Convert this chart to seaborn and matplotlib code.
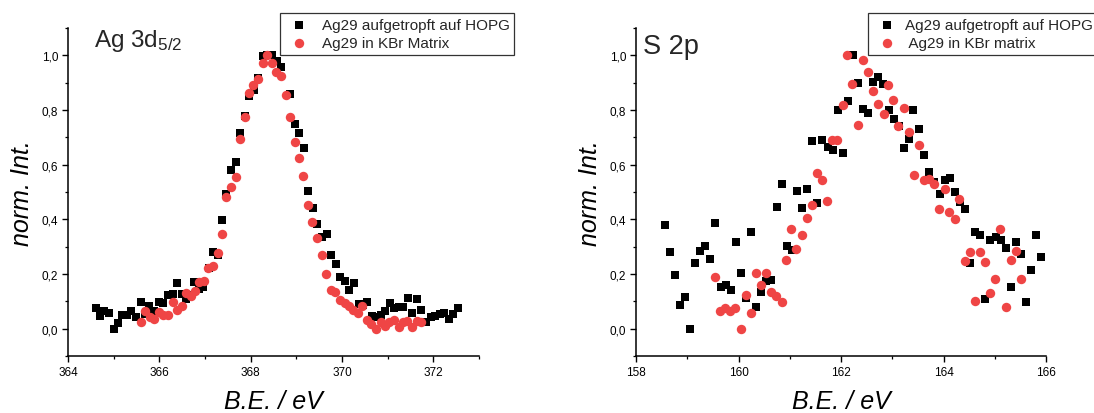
import matplotlib
matplotlib.use("Agg")
import matplotlib.pyplot as plt
from matplotlib.ticker import MultipleLocator, FuncFormatter
import numpy as np
import pandas as pd
import seaborn as sns

# ---------------- data ----------------
ag_hopg_x = [364.61, 364.70, 364.79, 364.90, 365.00, 365.09, 365.19, 365.29, 365.39, 365.49,
             365.59, 365.69, 365.78, 365.88, 365.99, 366.09, 366.18, 366.29, 366.38, 366.49,
             366.58, 366.68, 366.77, 366.86, 366.95, 367.09, 367.17, 367.28, 367.37, 367.47,
             367.57, 367.68, 367.77, 367.88, 367.97, 368.08, 368.16, 368.26, 368.36, 368.47,
             368.58, 368.66, 368.86, 368.97, 369.06, 369.17, 369.26, 369.36, 369.46, 369.57,
             369.67, 369.75, 369.87, 369.96, 370.07, 370.15, 370.26, 370.37, 370.46, 370.55,
             370.66, 370.77, 370.85, 370.94, 371.05, 371.14, 371.24, 371.33, 371.44, 371.53,
             371.64, 371.74, 371.85, 371.94, 372.03, 372.15, 372.23, 372.34, 372.44, 372.53]
ag_hopg_y = [0.074, 0.048, 0.066, 0.056, 0.000, 0.020, 0.051, 0.051, 0.064, 0.042,
             0.097, 0.055, 0.082, 0.064, 0.097, 0.094, 0.122, 0.126, 0.167, 0.126,
             0.109, 0.125, 0.171, 0.145, 0.152, 0.222, 0.281, 0.268, 0.398, 0.493,
             0.582, 0.608, 0.715, 0.777, 0.850, 0.875, 0.918, 0.999, 1.000, 1.000,
             0.980, 0.957, 0.857, 0.747, 0.715, 0.660, 0.504, 0.441, 0.382, 0.336,
             0.347, 0.268, 0.235, 0.189, 0.173, 0.142, 0.167, 0.090, 0.085, 0.099,
             0.045, 0.044, 0.050, 0.066, 0.093, 0.074, 0.080, 0.081, 0.112, 0.056,
             0.107, 0.070, 0.025, 0.042, 0.048, 0.055, 0.056, 0.035, 0.055, 0.074]

ag_kbr_x = [365.59, 365.69, 365.80, 365.89, 365.99, 366.09, 366.18, 366.29, 366.38, 366.49,
            366.58, 366.69, 366.78, 366.87, 366.98, 367.07, 367.18, 367.28, 367.37, 367.47,
            367.57, 367.67, 367.77, 367.88, 367.97, 368.06, 368.17, 368.26, 368.36, 368.47,
            368.55, 368.66, 368.77, 368.86, 368.96, 369.06, 369.15, 369.26, 369.35, 369.46,
            369.56, 369.65, 369.75, 369.85, 369.96, 370.07, 370.15, 370.25, 370.34, 370.44,
            370.55, 370.63, 370.74, 370.85, 370.94, 371.04, 371.14, 371.24, 371.33, 371.43,
            371.53, 371.64, 371.74]
ag_kbr_y = [0.025, 0.064, 0.042, 0.036, 0.060, 0.049, 0.051, 0.097, 0.069, 0.082,
            0.131, 0.119, 0.137, 0.171, 0.175, 0.222, 0.229, 0.278, 0.348, 0.481,
            0.517, 0.556, 0.695, 0.773, 0.864, 0.891, 0.912, 0.972, 1.000, 0.972,
            0.938, 0.925, 0.855, 0.774, 0.682, 0.623, 0.560, 0.452, 0.392, 0.331,
            0.268, 0.201, 0.141, 0.134, 0.104, 0.094, 0.082, 0.070, 0.057, 0.082,
            0.031, 0.017, 0.000, 0.025, 0.009, 0.025, 0.031, 0.005, 0.023, 0.027,
            0.006, 0.029, 0.026]

s_hopg_x = [158.57, 158.66, 158.76, 158.86, 158.96, 159.05, 159.15, 159.25, 159.35, 159.44,
            159.54, 159.66, 159.76, 159.85, 159.95, 160.05, 160.15, 160.24, 160.34, 160.44,
            160.54, 160.63, 160.75, 160.85, 160.94, 161.04, 161.14, 161.24, 161.34, 161.43,
            161.53, 161.63, 161.74, 161.84, 161.94, 162.03, 162.14, 162.24, 162.34, 162.42,
            162.52, 162.63, 162.72, 162.82, 162.94, 163.03, 163.13, 163.22, 163.32, 163.41,
            163.52, 163.62, 163.72, 163.81, 163.93, 164.03, 164.13, 164.22, 164.32, 164.42,
            164.52, 164.61, 164.71, 164.81, 164.91, 165.02, 165.12, 165.22, 165.32, 165.41,
            165.51, 165.61, 165.71, 165.80, 165.90]
s_hopg_y = [0.379, 0.281, 0.196, 0.085, 0.115, 0.000, 0.239, 0.283, 0.303, 0.254,
            0.386, 0.152, 0.158, 0.140, 0.317, 0.202, 0.113, 0.354, 0.078, 0.135,
            0.174, 0.178, 0.446, 0.531, 0.303, 0.288, 0.505, 0.441, 0.511, 0.685,
            0.460, 0.692, 0.665, 0.654, 0.801, 0.641, 0.832, 1.000, 0.900, 0.803,
            0.790, 0.903, 0.919, 0.895, 0.799, 0.766, 0.740, 0.660, 0.695, 0.799,
            0.732, 0.634, 0.572, 0.538, 0.493, 0.545, 0.551, 0.499, 0.465, 0.437,
            0.239, 0.354, 0.342, 0.110, 0.324, 0.336, 0.325, 0.295, 0.152, 0.317,
            0.272, 0.097, 0.214, 0.342, 0.262]

s_kbr_x = [159.55, 159.64, 159.74, 159.84, 159.94, 160.04, 160.14, 160.24, 160.34, 160.44,
           160.54, 160.63, 160.74, 160.84, 160.93, 161.03, 161.13, 161.23, 161.33, 161.43,
           161.53, 161.63, 161.73, 161.83, 161.93, 162.03, 162.12, 162.22, 162.33, 162.42,
           162.52, 162.62, 162.73, 162.83, 162.92, 163.02, 163.12, 163.22, 163.33, 163.42,
           163.52, 163.62, 163.72, 163.81, 163.91, 164.02, 164.11, 164.22, 164.31, 164.41,
           164.52, 164.61, 164.71, 164.81, 164.91, 165.01, 165.11, 165.21, 165.31, 165.41,
           165.51]
s_kbr_y = [0.190, 0.066, 0.076, 0.066, 0.074, 0.000, 0.122, 0.056, 0.202, 0.160,
           0.202, 0.134, 0.121, 0.096, 0.251, 0.363, 0.292, 0.341, 0.404, 0.451,
           0.571, 0.543, 0.467, 0.689, 0.689, 0.820, 1.000, 0.895, 0.746, 0.982,
           0.940, 0.869, 0.821, 0.784, 0.893, 0.835, 0.740, 0.808, 0.721, 0.562,
           0.672, 0.544, 0.548, 0.528, 0.437, 0.511, 0.426, 0.400, 0.474, 0.249,
           0.281, 0.100, 0.281, 0.245, 0.129, 0.183, 0.364, 0.078, 0.250, 0.283,
           0.183]

left_labels = ["Ag29 aufgetropft auf HOPG", "Ag29 in KBr Matrix"]
right_labels = ["Ag29 aufgetropft auf HOPG", " Ag29 in KBr matrix"]
left_title = "Ag 3d$_{5/2}$"
right_title = "S 2p"
xlabel = "B.E. / eV"
ylabel = "norm. Int."

# ---------------- style ----------------
sns.set_theme(style="ticks")
plt.rcParams["font.family"] = ["Liberation Sans", "DejaVu Sans"]
plt.rcParams["mathtext.default"] = "regular"

W, H = 1094, 414
fig = plt.figure(figsize=(W / 100, H / 100), dpi=100)
fig.patch.set_facecolor("white")


def px_axes(l, r, t, b):
    return fig.add_axes([l / W, 1 - b / H, (r - l) / W, (b - t) / H])


ax1 = px_axes(68, 479, 29, 357)
ax2 = px_axes(636, 1046, 29, 357)

BLACK = "#000000"
RED = "#EF4545"
comma = FuncFormatter(lambda v, p: f"{v:.1f}".replace(".", ","))


def draw(ax, hx, hy, kx, ky, labels, xlim, xmajor):
    sns.scatterplot(x=hx, y=hy, ax=ax, marker="s", color=BLACK, s=32,
                    linewidth=0, label=labels[0], zorder=3)
    sns.scatterplot(x=kx, y=ky, ax=ax, marker="o", color=RED, s=46,
                    linewidth=0, label=labels[1], zorder=4)
    ax.set_xlim(*xlim)
    ax.set_ylim(-0.1, 1.1)
    ax.xaxis.set_major_locator(MultipleLocator(xmajor))
    ax.xaxis.set_minor_locator(MultipleLocator(1))
    ax.yaxis.set_major_locator(MultipleLocator(0.2))
    ax.yaxis.set_minor_locator(MultipleLocator(0.1))
    ax.yaxis.set_major_formatter(comma)
    ax.xaxis.set_major_formatter(FuncFormatter(lambda v, p: f"{v:.0f}"))
    for s in ("top", "right"):
        ax.spines[s].set_visible(False)
    for s in ("left", "bottom"):
        ax.spines[s].set_color("black")
        ax.spines[s].set_linewidth(1.1)
    ax.tick_params(which="major", direction="out", length=4, width=1, color="black",
                   labelsize=8.5, pad=3, labelcolor="black")
    ax.tick_params(which="minor", direction="out", length=2.5, width=0.9, color="black")
    ax.set_xlabel(xlabel, fontsize=18, style="italic", color="black")
    ax.set_ylabel(ylabel, fontsize=18, style="italic", color="black")
    ax.xaxis.set_label_coords(0.5, -0.1)
    ax.yaxis.set_label_coords(-0.083, 0.5)
    ax.set_facecolor("white")
    ax.grid(False)


draw(ax1, ag_hopg_x, ag_hopg_y, ag_kbr_x, ag_kbr_y, left_labels, (364, 373), 2)
draw(ax2, s_hopg_x, s_hopg_y, s_kbr_x, s_kbr_y, right_labels, (158, 166), 2)


def add_legend(ax, x0, y0, textpad):
    h, l = ax.get_legend_handles_labels()
    leg = ax.legend(h, l, loc="upper left", bbox_to_anchor=(x0 / W, 1 - y0 / H),
                    bbox_transform=fig.transFigure, frameon=True, fancybox=False,
                    edgecolor="#333333", framealpha=1, fontsize=11, handlelength=1.88,
                    handletextpad=textpad, borderpad=0.3, labelspacing=0.3,
                    borderaxespad=0, markerscale=1.0)
    leg.get_frame().set_linewidth(0.9)
    return leg


add_legend(ax1, 280, 14, 0.56)
add_legend(ax2, 868, 14, 0.22)

fig.text(94 / W, 1 - 47 / H, left_title, fontsize=17.5, va="baseline", ha="left")
fig.text(643 / W, 1 - 54 / H, right_title, fontsize=19.5, va="baseline", ha="left")

fig.savefig("out.png", dpi=100, facecolor="white")
